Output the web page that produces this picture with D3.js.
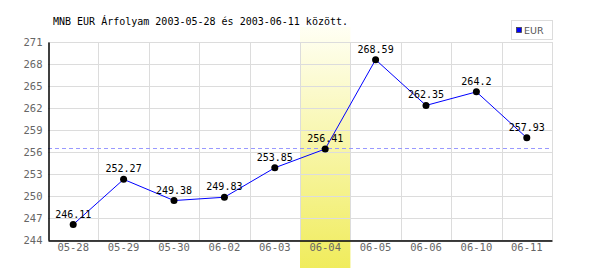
<!DOCTYPE html>
<html>
<head>
<meta charset="utf-8">
<style>
    body { margin: 0; background: #fff; }
    text { font-family: "DejaVu Sans Mono", monospace; }
</style>
</head>
<body>
<svg id="chart" width="600" height="270"></svg>
<script src="https://cdn.jsdelivr.net/npm/d3@7"></script>
<script>
    // data
    let dates = ["05-28", "05-29", "05-30", "06-02", "06-03", "06-04", "06-05", "06-06", "06-10", "06-11"]
    let eur = [246.11, 252.27, 249.38, 249.83, 253.85, 256.41, 268.59, 262.35, 264.2, 257.93]
    let yTicks = [244, 247, 250, 253, 256, 259, 262, 265, 268, 271]
    let refLine = 256.55
    let highlight = "06-04"
    let title = "MNB EUR Árfolyam 2003-05-28 és 2003-06-11 között."

    let svg = d3.select("#chart")
    let plotLeft = 48, plotRight = 552, plotTop = 42, plotBottom = 240

    let x = d3.scaleBand().domain(dates).range([plotLeft, plotRight])
    let y = d3.scaleLinear().domain([244, 271]).range([plotBottom, plotTop])

    // gradient for the highlighted day
    let grad = svg.append("defs").append("linearGradient")
        .attr("id", "hl").attr("x1", 0).attr("y1", 0).attr("x2", 0).attr("y2", 1)
    grad.append("stop").attr("offset", "0%").attr("stop-color", "#fffff4")
    grad.append("stop").attr("offset", "100%").attr("stop-color", "#f0ec5c")

    svg.append("rect")
        .attr("x", x(highlight)).attr("y", 27)
        .attr("width", x.bandwidth()).attr("height", 268 - 27)
        .attr("fill", "url(#hl)")

    // grid
    let grid = svg.append("g").attr("stroke", "#dcdcdc").attr("stroke-width", 1)
    grid.selectAll(".h").data(yTicks).enter().append("line")
        .attr("x1", plotLeft).attr("x2", plotRight)
        .attr("y1", d => Math.round(y(d)) + 0.5).attr("y2", d => Math.round(y(d)) + 0.5)
    grid.selectAll(".v").data(dates.slice(1).concat(["end"])).enter().append("line")
        .attr("x1", d => Math.round(d == "end" ? plotRight : x(d)) + 0.5)
        .attr("x2", d => Math.round(d == "end" ? plotRight : x(d)) + 0.5)
        .attr("y1", plotTop).attr("y2", plotBottom)

    // reference dashed line
    svg.append("line")
        .attr("x1", plotLeft).attr("x2", plotRight)
        .attr("y1", Math.round(y(refLine)) + 0.5).attr("y2", Math.round(y(refLine)) + 0.5)
        .attr("stroke", "#9999ff").attr("stroke-dasharray", "4,3")

    // axes
    let yAxis = svg.append("g").attr("transform", "translate(" + (plotLeft + 0.5) + ",0)")
        .call(d3.axisLeft(y).tickValues(yTicks).tickSize(0).tickPadding(6))
    let xAxis = svg.append("g").attr("transform", "translate(0," + (plotBottom + 0.5) + ")")
        .call(d3.axisBottom(x).tickSize(0).tickPadding(3))
    for (let ax of [yAxis, xAxis]) {
        ax.select(".domain").attr("stroke", "#000").attr("stroke-width", 1.5)
        ax.selectAll("text").attr("fill", "#666").style("font-size", "10.5px")
            .style("font-family", "'DejaVu Sans Mono', monospace")
    }

    // line + points
    let cx = d => x(d) + x.bandwidth() / 2
    let line = d3.line().x((d, i) => cx(dates[i])).y(d => y(d))
    svg.append("path").datum(eur)
        .attr("d", line).attr("fill", "none").attr("stroke", "#0000ff").attr("stroke-width", 1)

    svg.selectAll(".pt").data(eur).enter().append("circle")
        .attr("cx", (d, i) => cx(dates[i])).attr("cy", d => y(d))
        .attr("r", 3.5).attr("fill", "#000")

    svg.selectAll(".lbl").data(eur).enter().append("text")
        .attr("x", (d, i) => cx(dates[i])).attr("y", d => y(d) - 7)
        .attr("text-anchor", "middle").attr("fill", "#000")
        .style("font-size", "10px")
        .text(d => d)

    // title
    svg.append("text").attr("x", 53).attr("y", 25)
        .style("font-size", "10px").attr("fill", "#000").text(title)

    // legend
    svg.append("rect").attr("x", 511.5).attr("y", 20.5).attr("width", 41).attr("height", 19)
        .attr("fill", "#fff").attr("stroke", "#dcdcdc")
    svg.append("rect").attr("x", 516.5).attr("y", 27.5).attr("width", 5).attr("height", 5)
        .attr("fill", "#0000ff").attr("stroke", "#444").attr("stroke-width", 0.8)
    svg.append("text").attr("x", 524).attr("y", 34)
        .style("font-size", "9.5px").style("font-family", "'DejaVu Sans', sans-serif")
        .attr("fill", "#555").text("EUR")
</script>
</body>
</html>
